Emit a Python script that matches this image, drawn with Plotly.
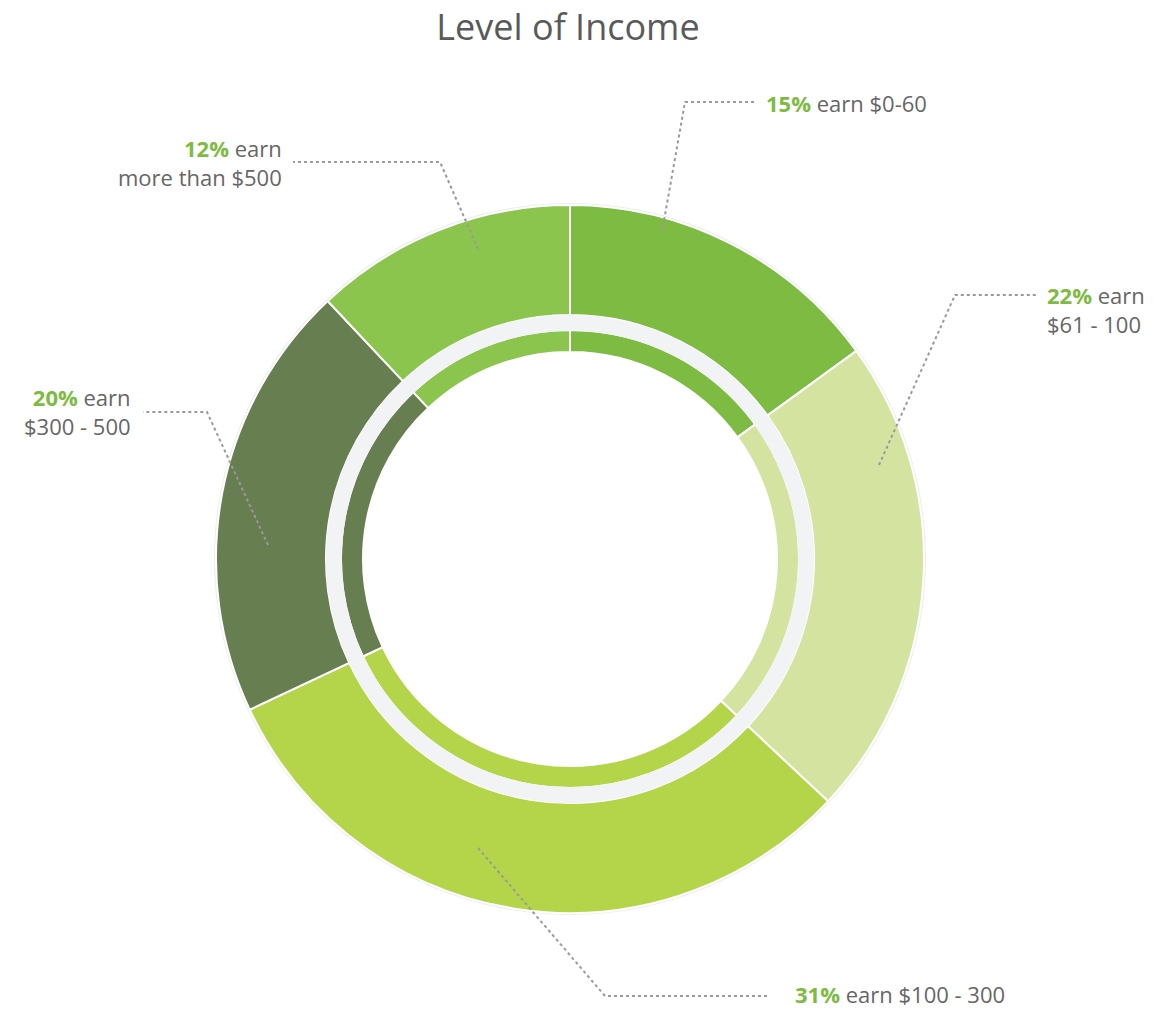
import plotly.graph_objects as go

W, H = 1164, 1009

# ---- data ----
categories = ["$0-60", "$61 - 100", "$100 - 300", "$300 - 500", "more than $500"]
shares = [15, 22, 31, 20, 12]
label_texts = [
    "earn $0-60",
    "earn<br>$61 - 100",
    "earn $100 - 300",
    "earn<br>$300 - 500",
    "earn<br>more than $500",
]
colors = ["#7dbb42", "#d4e4a0", "#b4d44a", "#677e51", "#8bc54d"]

# ---- layout geometry (pixels) ----
CX, CY = 570, 559
R_HALO, R_OUT, R_BAND_OUT, R_BAND_IN, R_IN_HOLE = 356, 354, 244, 228, 207

def px(x):
    return x / W

def py(y):
    return 1 - y / H

def domain(r):
    return dict(x=[px(CX - r), px(CX + r)], y=[py(CY + r), py(CY - r)])

fig = go.Figure()

# faint outer halo
fig.add_trace(go.Pie(values=[1], domain=domain(R_HALO), hole=R_OUT / R_HALO,
                     marker=dict(colors=["#ebedee"], line=dict(width=0)),
                     textinfo="none", hoverinfo="skip", sort=False, showlegend=False))
# outer ring
fig.add_trace(go.Pie(labels=categories, values=shares, domain=domain(R_OUT),
                     hole=R_BAND_OUT / R_OUT, sort=False, direction="clockwise",
                     marker=dict(colors=colors, line=dict(color="white", width=2)),
                     textinfo="none", showlegend=False))
# inner ring
fig.add_trace(go.Pie(labels=categories, values=shares, domain=domain(R_BAND_IN + 1),
                     hole=R_IN_HOLE / (R_BAND_IN + 1), sort=False, direction="clockwise",
                     marker=dict(colors=colors, line=dict(color="white", width=2)),
                     textinfo="none", showlegend=False))
# gray band between rings (drawn last to cover strokes)
fig.add_trace(go.Pie(values=[1], domain=domain(R_BAND_OUT), hole=R_BAND_IN / R_BAND_OUT,
                     marker=dict(colors=["#f2f3f5"], line=dict(width=0)),
                     textinfo="none", hoverinfo="skip", sort=False, showlegend=False))

# ---- callouts (positions are layout) ----
leader_paths = [
    [(662, 232), (685, 102), (757, 102)],
    [(879, 465), (955, 295), (1037, 295)],
    [(478, 848), (605, 996), (768, 996)],
    [(268, 545), (207, 412), (143, 412)],
    [(478, 249), (440, 162), (293, 162)],
]
text_pos = [
    (765, 103, "left"),
    (1046, 309, "left"),
    (794, 994, "left"),
    (132, 411, "right"),
    (283, 163, "right"),
]

shapes = []
for pts in leader_paths:
    path = "M " + " L ".join(f"{px(x)},{py(y)}" for x, y in pts)
    shapes.append(dict(type="path", xref="paper", yref="paper", path=path,
                       line=dict(color="#9a9a9a", width=2, dash="dot")))

annotations = []
for share, txt, (x, y, anchor) in zip(shares, label_texts, text_pos):
    annotations.append(dict(
        x=px(x), y=py(y), xref="paper", yref="paper", showarrow=False,
        xanchor=anchor, yanchor="middle", align=anchor, borderpad=0,
        text=f"<b><span style='color:#7dbb42'>{share}%</span></b> {txt}",
        font=dict(family="Open Sans", size=22, color="#666666"),
    ))

fig.update_layout(
    width=W, height=H,
    margin=dict(l=0, r=0, t=0, b=0),
    paper_bgcolor="white", plot_bgcolor="white",
    title=dict(text="Level of Income", x=px(CX - 2), xanchor="center",
               y=py(27), yanchor="middle",
               font=dict(family="Open Sans", size=36, color="#5a5a5a")),
    shapes=shapes, annotations=annotations,
)

fig.write_html("out.html", config={"displayModeBar": False},
               post_script="document.body.style.margin='0';")
